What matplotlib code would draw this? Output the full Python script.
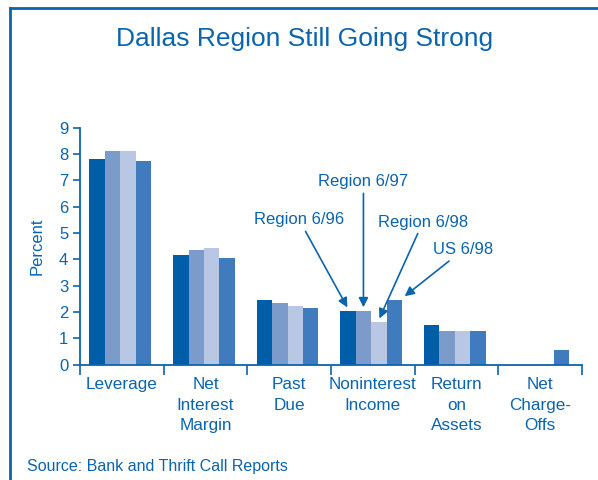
import numpy as np
import matplotlib
matplotlib.use("Agg")
import matplotlib.pyplot as plt
from matplotlib.lines import Line2D

plt.rcParams['font.family'] = ['Liberation Sans', 'DejaVu Sans']

# data
categories = ["Leverage", "Net\nInterest\nMargin", "Past\nDue", "Noninterest\nIncome",
              "Return\non\nAssets", "Net\nCharge-\nOffs"]
series_names = ["Region 6/96", "Region 6/97", "Region 6/98", "US 6/98"]
region_96 = [7.8, 4.15, 2.45, 2.03, 1.51, 0.0]
region_97 = [8.1, 4.34, 2.34, 2.03, 1.28, 0.0]
region_98 = [8.1, 4.45, 2.24, 1.61, 1.28, 0.0]
us_98 = [7.75, 4.05, 2.15, 2.45, 1.28, 0.57]

blue = "#0a64ae"
colors = ["#005ea8", "#7b9bcb", "#b8c7e3", "#3f7bbd"]

fig = plt.figure(figsize=(5.98, 4.8), dpi=100)
ax = fig.add_axes([0.134, 0.24, 0.839, 0.494])

x = np.arange(len(categories)) + 0.48
w = 0.184
offsets = [-1.5 * w, -0.5 * w, 0.5 * w, 1.5 * w]
all_series = [region_96, region_97, region_98, us_98]
for vals, off, c in zip(all_series, offsets, colors):
    ax.bar(x + off, vals, w, color=c, linewidth=0)

ax.set_xlim(0, len(categories))
ax.set_ylim(0, 9)
ax.set_yticks(range(0, 10))
ax.set_xticks(range(0, len(categories) + 1))
ax.set_xticklabels([])
ax.set_xticks(np.arange(len(categories)) + 0.5, minor=True)
ax.set_xticklabels(categories, minor=True, fontsize=12.3, color=blue, linespacing=1.45)
ax.tick_params(axis='x', which='minor', length=0, pad=9)
ax.tick_params(axis='x', which='major', length=7, width=1.2, color=blue, direction='out')
ax.tick_params(axis='y', length=5, width=1.2, color=blue, labelsize=12, labelcolor=blue)
for s in ['top', 'right']:
    ax.spines[s].set_visible(False)
for s in ['left', 'bottom']:
    ax.spines[s].set_color(blue)
    ax.spines[s].set_linewidth(1.3)
ax.set_ylabel("Percent", fontsize=12, color=blue, labelpad=10)

# annotations on Noninterest Income group
k = 3
arrow = dict(arrowstyle='-|>', color=blue, lw=1.2, mutation_scale=14, shrinkA=1, shrinkB=1)
ax.annotate(series_names[0], xy=(x[k] + offsets[0], region_96[k] + 0.1), xytext=(2.62, 5.5),
            ha='center', va='center', fontsize=12, color=blue, arrowprops=arrow)
ax.annotate(series_names[1], xy=(x[k] + offsets[1], region_97[k] + 0.1), xytext=(x[k] + offsets[1], 6.95),
            ha='center', va='center', fontsize=12, color=blue, arrowprops=arrow)
ax.annotate(series_names[2], xy=(x[k] + offsets[2], region_98[k] + 0.1), xytext=(4.1, 5.42),
            ha='center', va='center', fontsize=12, color=blue, arrowprops=arrow)
ax.annotate(series_names[3], xy=(x[k] + offsets[3] + w / 2 + 0.02, us_98[k] + 0.12), xytext=(4.58, 4.36),
            ha='center', va='center', fontsize=12, color=blue, arrowprops=arrow)

fig.text(0.51, 0.918, "Dallas Region Still Going Strong", ha='center', va='center',
         fontsize=19, color=blue)
fig.text(0.045, 0.029, "Source: Bank and Thrift Call Reports", ha='left', va='center',
         fontsize=11.5, color=blue)

# frame lines on top and left
fig.add_artist(Line2D([0.016, 1.0], [0.983, 0.983], transform=fig.transFigure, color=blue, lw=2))
fig.add_artist(Line2D([0.016, 0.016], [0.0, 0.983], transform=fig.transFigure, color=blue, lw=2))

fig.savefig("out.png", dpi=100)
